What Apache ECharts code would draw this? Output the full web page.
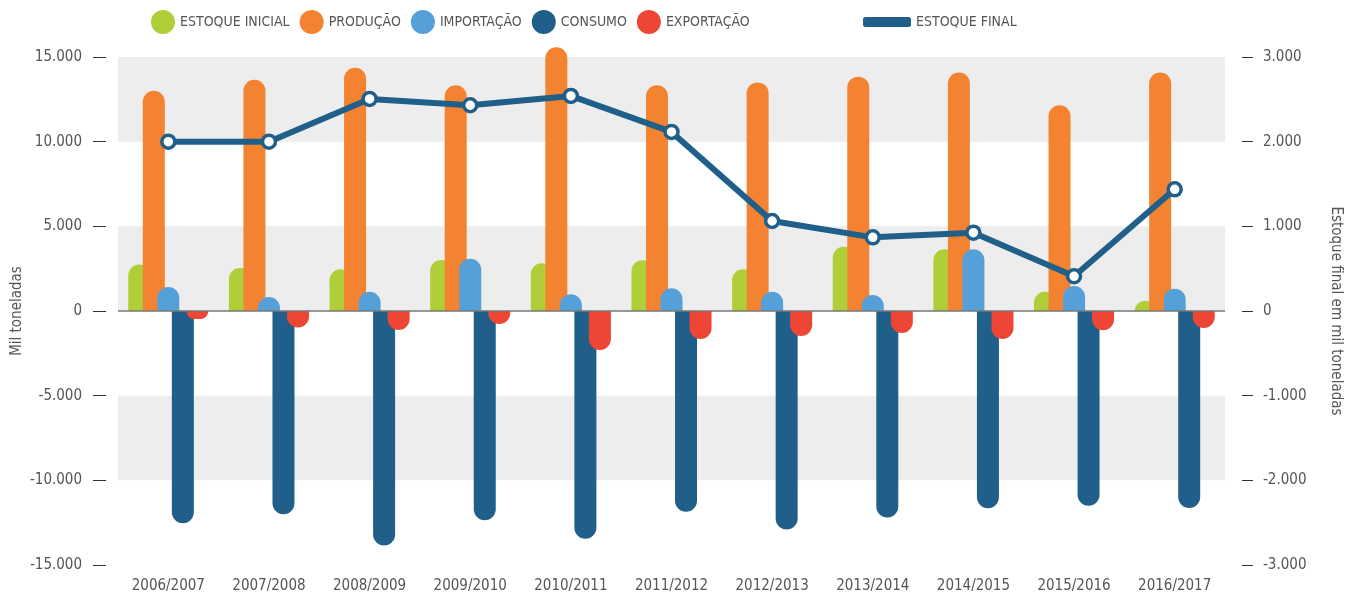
<!DOCTYPE html>
<html>
<head>
<meta charset="utf-8">
<script src="https://cdn.jsdelivr.net/npm/echarts@6/dist/echarts.min.js"></script>
<style>
  html, body { margin: 0; padding: 0; background: #fff; }
  #chart { width: 1349px; height: 596px; }
</style>
</head>
<body>
<div id="chart"></div>
<script>
// safras
const safras = ['2006/2007', '2007/2008', '2008/2009', '2009/2010', '2010/2011', '2011/2012',
  '2012/2013', '2013/2014', '2014/2015', '2015/2016', '2016/2017']

// mil toneladas (eixo esquerdo)
const estoqueInicial = [2750, 2540, 2460, 3010, 2820, 3000, 2460, 3800, 3640, 1140, 610]
const producao = [13000, 13660, 14370, 13330, 15570, 13330, 13500, 13840, 14080, 12150, 14080]
const importacao = [1420, 830, 1140, 3090, 990, 1340, 1140, 950, 3640, 1480, 1320]
const consumo = [-12540, -12000, -13850, -12350, -13450, -11850, -12900, -12200, -11650, -11500, -11630]
const exportacao = [-470, -980, -1120, -770, -2300, -1650, -1480, -1300, -1650, -1140, -1000]

// estoque final (eixo direito)
const estoqueFinal = [2000, 2000, 2505, 2430, 2540, 2115, 1063, 870, 925, 410, 1437]

const fontFamily = '"Liberation Sans Narrow", "DejaVu Sans Condensed", "Roboto", sans-serif'
const textColor = '#555'
const azul = '#1f5f89'

const chart = echarts.init(document.getElementById('chart'))

const barBase = {
  type: 'bar',
  barWidth: 22,
  barGap: '-34%',
  yAxisIndex: 0,
  clip: false
}

chart.setOption({
  animation: false,
  textStyle: { fontFamily: fontFamily },
  legend: [
    {
      left: 146,
      top: 5,
      icon: 'circle',
      itemWidth: 24,
      itemHeight: 24,
      itemGap: 10,
      textStyle: { color: textColor, fontSize: 14, fontFamily: fontFamily },
      data: ['ESTOQUE INICIAL', 'PRODUÇÃO', 'IMPORTAÇÃO', 'CONSUMO', 'EXPORTAÇÃO']
    },
    {
      left: 858,
      top: 10,
      icon: 'roundRect',
      itemWidth: 48,
      itemHeight: 10,
      textStyle: { color: textColor, fontSize: 14, fontFamily: fontFamily },
      data: [{ name: 'ESTOQUE FINAL', itemStyle: { color: azul, borderWidth: 0 } }]
    }
  ],
  grid: {
    left: 118,
    right: 124,
    top: 57,
    bottom: 31,
    outerBoundsMode: 'none'
  },
  xAxis: {
    type: 'category',
    data: safras,
    axisLine: { show: false },
    axisTick: { show: false },
    axisLabel: { color: textColor, fontSize: 15, margin: 14 }
  },
  yAxis: [
    {
      type: 'value',
      min: -15000,
      max: 15000,
      interval: 5000,
      offset: 12,
      name: 'Mil toneladas',
      nameLocation: 'middle',
      nameGap: 81,
      nameMoveOverlap: false,
      nameTextStyle: { color: textColor, fontSize: 15 },
      axisLine: { show: false },
      axisTick: { show: true, length: 13, lineStyle: { color: '#333' } },
      axisLabel: {
        color: textColor,
        fontSize: 15,
        margin: 24,
        formatter: v => v.toLocaleString('de-DE')
      },
      splitLine: { show: false },
      splitArea: { show: true, areaStyle: { color: ['rgba(0,0,0,0)', '#ededed'] } }
    },
    {
      type: 'value',
      min: -3000,
      max: 3000,
      interval: 1000,
      offset: 17,
      position: 'right',
      name: 'Estoque final em mil toneladas',
      nameLocation: 'middle',
      nameRotate: -90,
      nameGap: 86,
      nameTextStyle: { color: textColor, fontSize: 15 },
      axisLine: { show: false },
      axisTick: { show: true, length: 11, lineStyle: { color: '#333' } },
      axisLabel: {
        color: textColor,
        fontSize: 15,
        margin: 21,
        formatter: v => v.toLocaleString('de-DE')
      },
      splitLine: { show: false }
    }
  ],
  series: [
    {
      ...barBase,
      name: 'ESTOQUE INICIAL',
      data: estoqueInicial,
      itemStyle: { color: '#afce37', borderRadius: [11, 11, 0, 0] }
    },
    {
      ...barBase,
      name: 'PRODUÇÃO',
      data: producao,
      itemStyle: { color: '#f48331', borderRadius: [11, 11, 0, 0] }
    },
    {
      ...barBase,
      name: 'IMPORTAÇÃO',
      data: importacao,
      itemStyle: { color: '#55a0d8', borderRadius: [11, 11, 0, 0] }
    },
    {
      ...barBase,
      name: 'CONSUMO',
      data: consumo,
      itemStyle: { color: azul, borderRadius: [0, 0, 11, 11] }
    },
    {
      ...barBase,
      name: 'EXPORTAÇÃO',
      data: exportacao,
      itemStyle: { color: '#ee4634', borderRadius: [0, 0, 11, 11] },
      // linha do zero
      markLine: {
        silent: true,
        symbol: 'none',
        label: { show: false },
        lineStyle: { color: '#777', type: 'solid', width: 1.5 },
        data: [{ yAxis: 0 }]
      }
    },
    {
      name: 'ESTOQUE FINAL',
      type: 'line',
      yAxisIndex: 1,
      data: estoqueFinal,
      symbol: 'circle',
      symbolSize: 13,
      z: 5,
      lineStyle: { color: azul, width: 6 },
      itemStyle: { color: '#fff', borderColor: azul, borderWidth: 3.5 }
    }
  ]
})
</script>
</body>
</html>
